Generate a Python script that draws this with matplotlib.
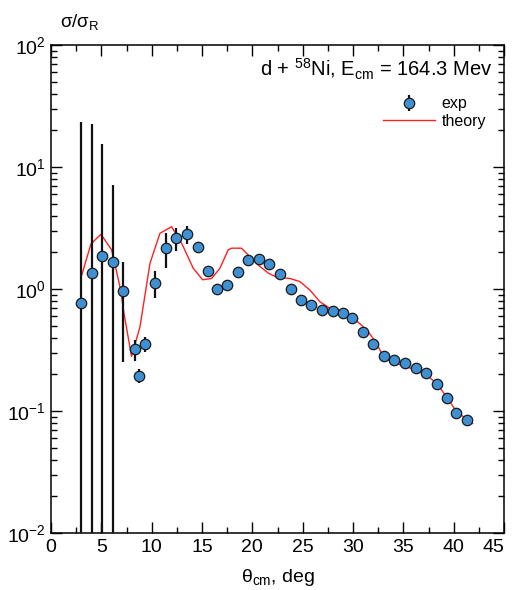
import numpy as np
import matplotlib
matplotlib.use("Agg")
import matplotlib.pyplot as plt
from matplotlib.ticker import LogLocator, MultipleLocator, NullFormatter

plt.rcParams["font.family"] = ["Liberation Sans", "DejaVu Sans"]
plt.rcParams["mathtext.fontset"] = "custom"
plt.rcParams["mathtext.rm"] = "Liberation Sans"
plt.rcParams["mathtext.it"] = "Liberation Sans:italic"
plt.rcParams["mathtext.bf"] = "Liberation Sans:bold"

# measured angular distribution (ratio to Rutherford)
theta_exp = [3.01, 4.07, 5.09, 6.12, 7.20, 8.31, 8.74, 9.36, 10.36, 11.42,
             12.41, 13.50, 14.57, 15.56, 16.48, 17.50, 18.54, 19.55, 20.69,
             21.70, 22.74, 23.80, 24.83, 25.85, 26.91, 28.00, 29.02, 29.95,
             30.98, 31.98, 33.04, 34.10, 35.19, 36.25, 37.27, 38.33, 39.36,
             40.22, 41.28]
ratio_exp = [0.77, 1.35, 1.86, 1.67, 0.96, 0.32, 0.194, 0.352, 1.13, 2.18,
             2.60, 2.81, 2.22, 1.41, 1.00, 1.08, 1.38, 1.73, 1.76,
             1.60, 1.32, 1.00, 0.82, 0.735, 0.669, 0.664, 0.63, 0.575,
             0.44, 0.354, 0.284, 0.263, 0.247, 0.224, 0.204, 0.166, 0.129,
             0.097, 0.084]
err_exp = [22.7, 21.0, 13.5, 5.4, 0.71, 0.065, 0.025, 0.05, 0.28, 0.70,
           0.55, 0.45, 0.23, 0.05, 0.03, 0.03, 0.04, 0.05, 0.05,
           0.04, 0.03, 0.03, 0.02, 0.02, 0.02, 0.02, 0.02, 0.015,
           0.012, 0.01, 0.008, 0.007, 0.007, 0.006, 0.006, 0.005, 0.004,
           0.003, 0.003]

# optical-model calculation
theta_th = [3.0, 3.97, 4.96, 6.03, 6.92, 7.25, 7.94, 8.0, 8.84, 9.83,
            10.82, 11.98, 12.98, 14.13, 15.06, 15.96, 16.78, 17.6, 17.94,
            18.93, 19.43, 20.59, 21.58, 22.41, 23.73, 24.73, 25.72, 26.71,
            27.7, 28.7, 30.02, 30.68, 31.51, 32.34, 32.84, 33.66, 34.99,
            36.3, 37.3, 38.3, 39.29, 40.29, 41.88]
ratio_th = [1.26, 2.34, 2.81, 2.09, 0.98, 0.63, 0.30, 0.28, 0.49, 1.62,
            2.86, 3.24, 2.37, 1.48, 1.19, 1.22, 1.48, 2.09, 2.16,
            2.16, 1.96, 1.57, 1.35, 1.25, 1.22, 1.15, 0.98, 0.787,
            0.695, 0.652, 0.575, 0.52, 0.447, 0.359, 0.297, 0.258, 0.234,
            0.217, 0.197, 0.169, 0.131, 0.0987, 0.079]

x_ticks = [0, 5, 10, 15, 20, 25, 30, 35, 40, 45]

fig = plt.figure(figsize=(5.12, 5.90), dpi=100)
ax = fig.add_axes([51 / 512, 1 - 533 / 590, 453 / 512, 488 / 590])

y = np.array(ratio_exp)
e = np.array(err_exp)
lower = np.minimum(e, 0.999 * y)

ax.plot(theta_th, ratio_th, color="#ff2020", lw=1.0, zorder=2, label="theory")
ax.errorbar(theta_exp, y, yerr=[lower, e], fmt="o", ms=7.5,
            mfc="#3f8fd3", mec="#1a1a1a", mew=0.9, ecolor="#111111",
            elinewidth=1.6, capsize=0, zorder=3, label="exp")

ax.set_yscale("log")
ax.set_xlim(0, 45)
ax.set_ylim(1e-2, 1e2)
ax.set_xticks(x_ticks)
ax.xaxis.set_minor_locator(MultipleLocator(2.5))
ax.yaxis.set_major_locator(LogLocator(base=10, numticks=10))
ax.yaxis.set_minor_locator(LogLocator(base=10, subs=np.arange(2, 10), numticks=20))
ax.yaxis.set_minor_formatter(NullFormatter())

ax.tick_params(which="both", direction="in", top=True, right=True,
               labelsize=14, width=1.0, pad=4)
ax.tick_params(which="major", length=8)
ax.tick_params(which="minor", length=4.5)
for s in ax.spines.values():
    s.set_linewidth(1.1)

# keep the last x tick label inside the figure
fig.canvas.draw()
xlabels = ax.get_xticklabels()
xlabels[-1].set_horizontalalignment("right")

ax.set_xlabel(r"θ$_{\rm cm}$, deg", fontsize=14, labelpad=8)
fig.text(60 / 512, 1 - 22 / 590, r"σ/σ$_{\rm R}$", fontsize=13.5, va="center", ha="left")

ax.text(0.974, 0.949, r"d + $^{58}$Ni, E$_{\rm cm}$ = 164.3 Mev",
        transform=ax.transAxes, ha="right", va="center", fontsize=14.5)

h, l = ax.get_legend_handles_labels()
leg = ax.legend([h[1], h[0]], [l[1], l[0]], loc="upper right",
                bbox_to_anchor=(0.975, 0.908), frameon=False, fontsize=11.5,
                handlelength=3.2, handletextpad=0.45, labelspacing=0.15,
                borderaxespad=0.0)

fig.savefig("out.png", dpi=100)
